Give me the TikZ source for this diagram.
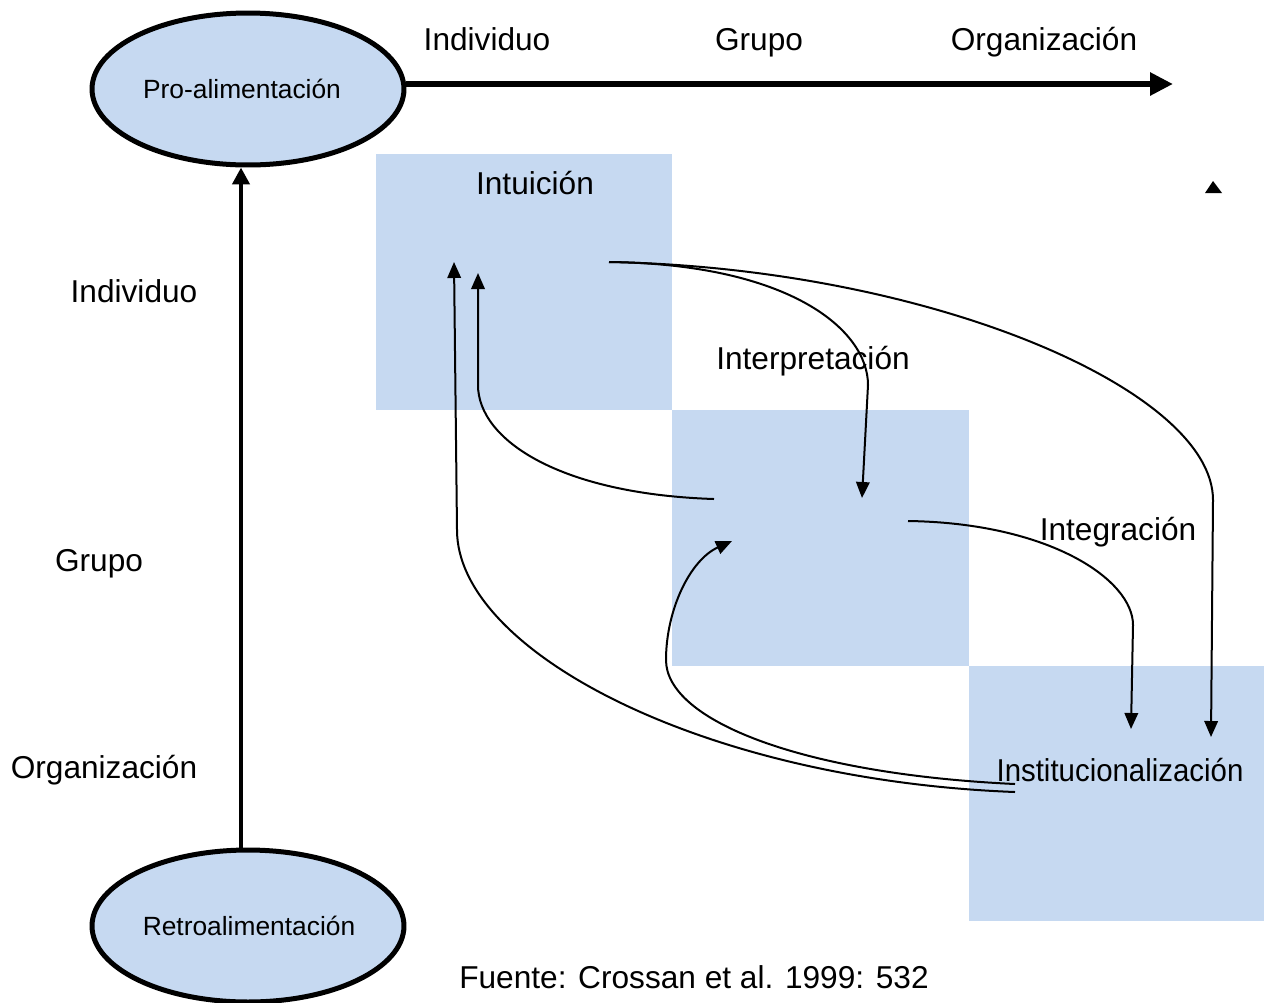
\documentclass[tikz,border=0pt]{standalone}
\usepackage{fontspec}
\usepackage{graphicx}
\setmainfont{Liberation Sans}
\usetikzlibrary{shapes.geometric,arrows.meta}
\definecolor{paleblue}{HTML}{C6D9F1}
\begin{document}
\begin{tikzpicture}[x=0.02cm,y=-0.02cm,
  lbl/.style={inner sep=0pt,anchor=base,font=\fontsize{18}{21}\selectfont},
  oval/.style={ellipse,draw=black,fill=paleblue,line width=0.1cm,
    minimum width=6.24cm,minimum height=3.04cm,inner sep=0pt},
  ovaltext/.style={inner sep=0pt,anchor=base,font=\fontsize{15}{18}\selectfont},
  stage/.style={fill=paleblue,draw=none},
  link/.style={line width=0.04cm,-{Triangle[length=0.32cm,width=0.27cm]}},
  axis/.style={line width=0.12cm,-{Triangle[length=0.46cm,width=0.44cm]}},
  feed/.style={line width=0.09cm,-{Triangle[length=0.34cm,width=0.34cm]}}]
\useasboundingbox (0,0) rectangle (1264,1002);

% stage blocks
\fill[stage] (376,154) rectangle (672,410);
\fill[stage] (672,410) rectangle (969,666);
\fill[stage] (969,666) rectangle (1264,921);

% ovals and their captions
\node[oval] (pro) at (248,89) {};
\node[oval] (retro) at (248,926) {};
\node[ovaltext] (protxt) at (242,98) {Pro-alimentación};
\node[ovaltext] (retrotxt) at (249,935) {Retroalimentación};

% axis labels
\node[lbl] (cind) at (487,50) {Individuo};
\node[lbl] (cgru) at (759,50) {Grupo};
\node[lbl] (corg) at (1044,50) {Organización};
\node[lbl] (rind) at (134,302) {Individuo};
\node[lbl] (rgru) at (99,571) {Grupo};
\node[lbl] (rorg) at (104,778) {Organización};

% stage labels
\node[lbl] (intu) at (535,194) {Intuición};
\node[lbl] (inte) at (813,369) {Interpretación};
\node[lbl] (integ) at (1118,540) {Integración};
\node[lbl] (inst) at (1120,781) {\scalebox{0.93}[1]{Institucionalización}};
\node[lbl] (src) at (694,988) {Fuente: Crossan et al. 1999: 532};

% main axes
\coordinate (axend) at (1173,84);
\draw[axis] (pro.east |- axend) -- (axend);
\draw[feed] (retro.north -| 241,0) -- (pro.south -| 241,0);

% stray marker
\fill (1205,193) -- (1222,193) -- (1213,181) -- cycle;

% connector ends
\coordinate (a1) at (609,262);
\coordinate (a2) at (862,498);
\coordinate (a3) at (1211,737);
\coordinate (b1) at (714,499);
\coordinate (b2) at (478,273);
\coordinate (c1) at (1015,792);
\coordinate (c2) at (454,262);
\coordinate (d1) at (1015,784);
\coordinate (d2) at (732,541);
\coordinate (e1) at (908,521);
\coordinate (e2) at (1131,729);

% learning flows
\draw[link] (a1) .. controls (790,264) and (868,330) .. (868,385) -- (a2);
\draw[link] (a1) .. controls (930,268) and (1213,390) .. (1213,500) -- (a3);
\draw[link] (b1) .. controls (560,494) and (478,440) .. (478,385) -- (b2);
\draw[link] (c1) .. controls (700,780) and (457,650) .. (457,530) -- (c2);
\draw[link] (d1) .. controls (800,774) and (666,720) .. (666,660)
  .. controls (666,610) and (690,560) .. (d2);
\draw[link] (e1) .. controls (1050,523) and (1133,580) .. (1133,625) -- (e2);
\end{tikzpicture}
\end{document}
